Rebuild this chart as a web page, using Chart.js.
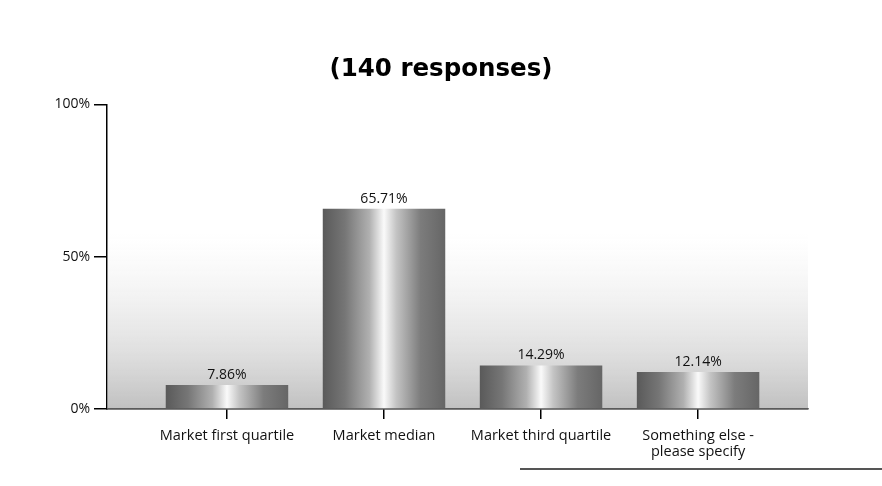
<!DOCTYPE html>
<html>
<head>
<meta charset="utf-8">
<script src="https://cdn.jsdelivr.net/npm/chart.js@4/dist/chart.umd.min.js"></script>
<style>
  html, body { margin: 0; padding: 0; background: #fff; }
  #wrap { width: 882px; height: 486px; }
</style>
</head>
<body>
<div id="wrap"><canvas id="chart" width="882" height="486"></canvas></div>
<script>
// Data
const categories = ['Market first quartile', 'Market median', 'Market third quartile', ['Something else -', 'please specify']];
const percentValues = [7.86, 65.71, 14.29, 12.14];
const yTicks = [0, 50, 100];
const titleText = '(140 responses)';

const FONT = '"Open Sans", Lato, sans-serif';

// halftone-ish grey wash behind the bars
const backdrop = {
    id: 'backdrop',
    beforeDatasetsDraw(chart) {
        const { ctx, chartArea } = chart;
        const y = chart.scales.y;
        const topPx = y.getPixelForValue(58);
        const g = ctx.createLinearGradient(0, chartArea.bottom, 0, topPx);
        g.addColorStop(0, 'rgba(150,150,150,0.6)');
        g.addColorStop(0.3, 'rgba(175,175,175,0.42)');
        g.addColorStop(0.65, 'rgba(200,200,200,0.22)');
        g.addColorStop(1, 'rgba(230,230,230,0)');
        ctx.save();
        ctx.fillStyle = g;
        ctx.fillRect(chartArea.left, topPx, chartArea.right - chartArea.left, chartArea.bottom - topPx);
        ctx.restore();
    }
};

// value labels above bars
const valueLabels = {
    id: 'valueLabels',
    afterDatasetsDraw(chart) {
        const { ctx } = chart;
        const meta = chart.getDatasetMeta(0);
        ctx.save();
        ctx.font = '14px ' + FONT;
        ctx.fillStyle = '#111';
        ctx.textAlign = 'center';
        ctx.textBaseline = 'bottom';
        meta.data.forEach((bar, i) => {
            ctx.fillText(percentValues[i].toFixed(2) + '%', bar.x, bar.y - 3);
        });
        ctx.restore();
    },
    afterDraw(chart) {
        // scan edge line at the bottom right
        const { ctx } = chart;
        ctx.save();
        ctx.strokeStyle = '#555';
        ctx.lineWidth = 2;
        ctx.beginPath();
        ctx.moveTo(520, 469);
        ctx.lineTo(882, 469);
        ctx.stroke();
        ctx.restore();
    }
};

function barGradient(c) {
    const chart = c.chart;
    const xs = chart.scales.x;
    if (!xs || c.dataIndex === undefined) return '#999';
    const cx = xs.getPixelForValue(c.dataIndex);
    if (!isFinite(cx)) return '#999';
    const half = 61;
    const g = chart.ctx.createLinearGradient(cx - half, 0, cx + half, 0);
    g.addColorStop(0, '#5a5a5a');
    g.addColorStop(0.18, '#767676');
    g.addColorStop(0.38, '#b0b0b0');
    g.addColorStop(0.5, '#fafafa');
    g.addColorStop(0.6, '#c4c4c4');
    g.addColorStop(0.8, '#7c7c7c');
    g.addColorStop(1, '#666');
    return g;
}

const ctx = document.getElementById('chart').getContext('2d');
new Chart(ctx, {
    type: 'bar',
    data: {
        datasets: [{
            data: percentValues.map((v, i) => ({ x: i, y: v })),
            backgroundColor: barGradient,
            borderWidth: 0,
            barPercentage: 0.78,
            categoryPercentage: 1
        }]
    },
    options: {
        responsive: false,
        animation: false,
        layout: { padding: 0 },
        plugins: {
            legend: { display: false },
            tooltip: { enabled: false },
            title: {
                display: true,
                text: titleText,
                color: '#000',
                font: { family: '"DejaVu Sans", sans-serif', size: 24.5, weight: 'bold' },
                padding: { top: 55, bottom: 20 }
            }
        },
        scales: {
            x: {
                type: 'linear',
                offset: false,
                min: -0.764,
                max: 3.70,
                afterBuildTicks(scale) {
                    scale.ticks = categories.map((c, i) => ({ value: i }));
                },
                afterFit(scale) { scale.height = 77; },
                grid: { offset: false, drawOnChartArea: false, drawTicks: true, tickLength: 10, color: '#000', lineWidth: 1.5 },
                border: { color: '#000', width: 1.5 },
                ticks: {
                    autoSkip: false,
                    maxRotation: 0,
                    color: '#111',
                    padding: 9,
                    font: { family: FONT, size: 14.5, lineHeight: 1.1 },
                    callback: (v) => categories[v]
                }
            },
            y: {
                min: 0,
                max: 100,
                afterBuildTicks(scale) {
                    scale.ticks = yTicks.map(v => ({ value: v }));
                },
                afterFit(scale) { scale.width = 107; },
                grid: { drawOnChartArea: false, drawTicks: true, tickLength: 13, color: '#000', lineWidth: 1.5 },
                border: { color: '#000', width: 1.5 },
                ticks: {
                    color: '#111',
                    padding: 4,
                    font: { family: FONT, size: 14 },
                    callback: (v) => v + '%'
                }
            },
            // empty right-hand margin so the title centres on the whole page
            yRight: {
                position: 'right',
                display: true,
                afterFit(scale) { scale.width = 74; },
                grid: { display: false },
                border: { display: false },
                ticks: { display: false }
            }
        }
    },
    plugins: [backdrop, valueLabels]
});
</script>
</body>
</html>
